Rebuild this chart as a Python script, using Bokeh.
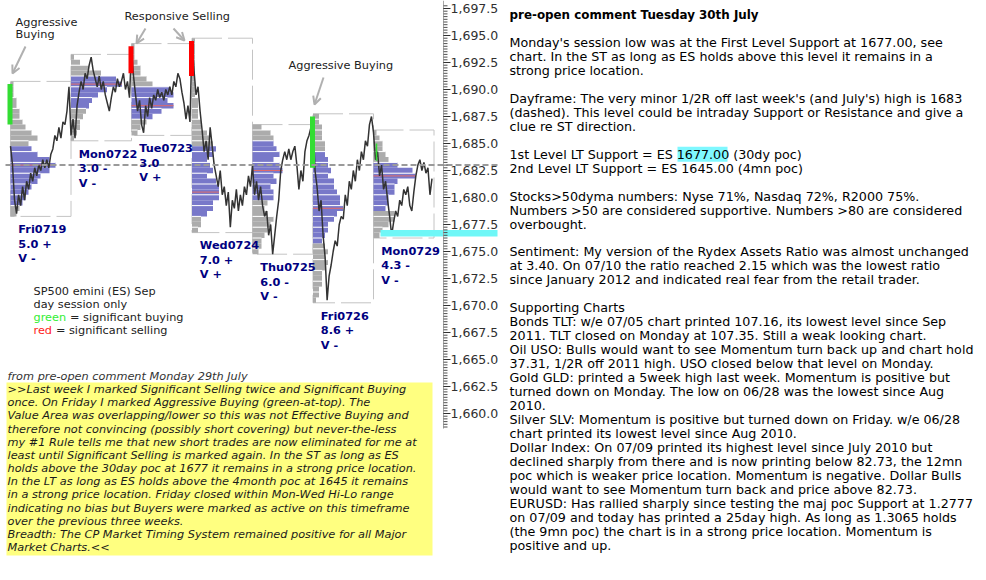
from bokeh.plotting import figure
from bokeh.models import Range1d, Arrow, OpenHead
from bokeh.core.properties import value
from bokeh.embed import file_html
from bokeh.resources import INLINE

# ---------------- data ----------------
day_names = ["Fri0719", "Mon0722", "Tue0723", "Wed0724", "Thu0725", "Fri0726", "Mon0729"]
day_scores = ["5.0 +", "3.0 -", "3.0", "7.0 +", "6.0 -", "8.6 +", "4.3 -"]
day_value = ["V -", "V -", "V +", "V +", "V -", "V -", "V -"]
day_high = [1690.5, 1693.0, 1694.0, 1694.5, 1686.5, 1687.5, 1686.0]
day_low = [1678.5, 1685.5, 1686.0, 1677.0, 1675.0, 1670.5, 1676.5]
va_high = [1684.5, 1691.0, 1690.0, 1684.5, 1685.0, 1684.0, 1683.0]
va_low = [1679.5, 1688.5, 1687.5, 1678.5, 1680.0, 1676.0, 1679.0]
poc = [1683.0, 1690.5, 1688.5, 1680.5, 1682.5, 1679.0, 1682.0]

# TPO counts per half-point row, from the day high downwards
tpo_fri0719 = [1, 1, 1, 2, 2, 3, 3, 4, 5, 7, 9, 6, 7, 9, 13, 15, 13, 10, 9, 7, 6, 5, 4, 3, 2]
tpo_mon0722 = [1, 3, 6, 10, 15, 17, 12, 9, 7, 6, 5, 4, 3, 3, 2, 1]
tpo_tue0723 = [1, 1, 1, 2, 3, 3, 5, 7, 13, 14, 12, 14, 10, 7, 5, 3, 2]
tpo_wed0724 = [1, 1, 1, 1, 1, 1, 1, 1, 1, 1, 1, 2, 2, 2, 2, 3, 3, 5, 6, 7, 8, 7, 5, 6, 7, 5, 8, 9, 9, 9, 7, 7, 5, 3, 3, 2]
tpo_thu0725 = [3, 6, 7, 7, 8, 9, 7, 9, 10, 7, 8, 6, 7, 7, 5, 4, 5, 7, 6, 5, 4, 3, 3, 2]
tpo_fri0726 = [2, 2, 3, 3, 3, 4, 4, 4, 5, 5, 6, 5, 7, 7, 8, 9, 9, 10, 8, 7, 5, 5, 4, 3, 4, 5, 4, 5, 4, 3, 3, 3, 2, 2, 1]
tpo_mon0729 = [1, 2, 3, 3, 4, 5, 8, 13, 14, 8, 7, 7, 5, 5, 4, 7, 7, 5, 3, 2]

# intraday price path (equal time steps within each day session)
px_fri0719 = [1684.75, 1683.0, 1679.75, 1678.5, 1680.25, 1679.25, 1681.0, 1679.75, 1681.5, 1680.75,
              1682.25, 1681.5, 1682.75, 1682.0, 1683.0, 1682.5, 1683.5, 1682.75, 1683.5, 1682.75,
              1684.0, 1684.5, 1685.75, 1685.25, 1686.5, 1685.5, 1687.0, 1686.75, 1688.0, 1690.25]
px_mon0722 = [1685.75, 1687.25, 1685.5, 1688.5, 1689.75, 1690.75, 1690.0, 1691.5, 1691.0, 1692.25,
              1693.0, 1691.75, 1691.0, 1690.25, 1691.25, 1690.0, 1690.75, 1689.5, 1688.75, 1688.0,
              1689.25, 1690.25, 1689.75, 1691.0, 1690.25, 1690.75, 1691.5, 1690.0, 1690.75, 1689.25]
px_tue0723 = [1693.75, 1691.25, 1689.5, 1688.0, 1689.0, 1686.75, 1686.0, 1688.5, 1687.5, 1689.25,
              1688.25, 1689.5, 1689.0, 1690.0, 1689.25, 1689.75, 1689.0, 1690.0, 1689.5, 1690.25,
              1689.5, 1690.75, 1690.25, 1691.5, 1691.0, 1689.75, 1688.75, 1687.25, 1688.5, 1687.0]
px_wed0724 = [1694.5, 1691.75, 1689.5, 1690.25, 1688.0, 1686.25, 1684.25, 1685.25, 1683.5, 1686.5,
              1684.75, 1683.0, 1682.0, 1681.0, 1682.5, 1680.25, 1681.0, 1679.25, 1680.5, 1677.25,
              1679.75, 1679.0, 1680.75, 1678.75, 1680.25, 1679.25, 1681.0, 1680.25, 1682.0, 1681.0]
px_thu0725 = [1683.0, 1680.25, 1681.5, 1679.75, 1681.0, 1679.25, 1678.25, 1678.75, 1676.5, 1677.5,
              1674.75, 1676.5, 1678.25, 1679.75, 1682.5, 1683.5, 1684.25, 1683.5, 1684.5, 1683.5,
              1684.25, 1684.75, 1683.0, 1680.75, 1682.5, 1681.5, 1684.25, 1685.25, 1685.75, 1686.5]
px_fri0726 = [1687.25, 1682.5, 1681.0, 1678.75, 1679.75, 1676.5, 1674.5, 1670.5, 1672.75, 1673.75,
              1675.0, 1676.0, 1675.5, 1677.5, 1678.25, 1678.0, 1680.25, 1679.25, 1681.5, 1680.75,
              1682.5, 1681.5, 1683.5, 1682.5, 1684.25, 1683.5, 1685.25, 1684.75, 1686.75, 1687.5]
px_mon0729 = [1686.0, 1683.5, 1684.25, 1682.0, 1683.0, 1680.75, 1681.5, 1679.75, 1678.25, 1676.5,
              1677.75, 1678.75, 1678.25, 1679.75, 1679.25, 1680.75, 1680.25, 1681.0, 1679.25, 1678.75,
              1680.5, 1682.0, 1683.0, 1683.5, 1682.5, 1683.25, 1682.25, 1682.75, 1680.25, 1681.75]

# significant activity markers
sig_day = [0, 2, 3, 5]
sig_top = [1690.5, 1694.0, 1694.5, 1687.5]
sig_bottom = [1686.75, 1691.5, 1691.25, 1682.75]
sig_color = ["#33dd33", "#ff0000", "#ff0000", "#33dd33"]

half_r_level = 1683.0
support_level = 1677.0

tick_values = [1660.0 + 2.5 * i for i in range(16)]
tick_labels = ["{:,.1f}".format(v) for v in tick_values]

right_text = [
    "pre-open comment Tuesday 30th July",
    "",
    "Monday's session low was at the First Level Support at 1677.00, see",
    "chart.  In the ST as long as ES holds above this level it remains in a",
    "strong price location.",
    "",
    "Dayframe: The very minor 1/2R off last week's (and July's) high is 1683",
    "(dashed).  This level could be intraday Support or Resistance and give a",
    "clue re ST direction.",
    "",
    "1st Level LT Support = ES 1677.00 (30dy poc)",
    "2nd Level LT Support = ES 1645.00 (4mn poc)",
    "",
    "Stocks>50dyma numbers: Nyse 71%, Nasdaq 72%, R2000 75%.",
    "Numbers >50 are considered supportive.   Numbers >80 are considered",
    "overbought.",
    "",
    "Sentiment: My version of the Rydex Assets Ratio was almost unchanged",
    "at 3.40.  On 07/10 the ratio reached 2.15 which was the lowest ratio",
    "since January 2012 and indicated real fear from the retail trader.",
    "",
    "Supporting Charts",
    "Bonds TLT: w/e 07/05 chart printed 107.16, its lowest level since Sep",
    "2011. TLT closed on Monday at 107.35. Still a weak looking chart.",
    "Oil USO: Bulls would want to see Momentum turn back up and chart hold",
    "37.31, 1/2R off 2011 high.  USO closed below that level on Monday.",
    "Gold  GLD:  printed a 5week high last week.  Momentum is positive but",
    "turned down on Monday. The low on 06/28 was the lowest since Aug",
    "2010.",
    "Silver SLV: Momentum is positive but turned down on Friday.  w/e 06/28",
    "chart printed its lowest level since Aug 2010.",
    "Dollar Index:  On 07/09 printed its highest level since July 2010 but",
    "declined sharply from there and is now printing below 82.73, the 12mn",
    "poc which is weaker price location.  Momentum is negative.  Dollar Bulls",
    "would want to see Momentum turn back and price above 82.73.",
    "EURUSD: Has rallied sharply since testing the maj poc Support at 1.2777",
    "on 07/09 and today has printed a 25day high.  As long as 1.3065 holds",
    "(the 9mn poc) the chart is in a strong price location.  Momentum is",
    "positive and up.",
]

box_heading = "from pre-open comment Monday 29th July"
box_text = [
    ">>Last week I marked Significant Selling twice and Significant Buying",
    "once.  On Friday I marked Aggressive Buying (green-at-top).  The",
    "Value Area was overlapping/lower so this was not Effective Buying and",
    "therefore not convincing (possibly short covering) but never-the-less",
    "my #1 Rule tells me that new short trades are now eliminated for me at",
    "least until Significant Selling is marked again.  In the ST as long as ES",
    "holds above the 30day poc at 1677 it remains in a strong price location.",
    "In the LT as long as ES holds above the 4month poc at 1645 it remains",
    "in a strong price location.  Friday closed within Mon-Wed Hi-Lo range",
    "indicating no bias but Buyers were marked as active on this timeframe",
    "over the previous three weeks.",
    "Breadth: The CP Market Timing System remained positive for all Major",
    "Market Charts.<<",
]

legend_lines = ["SP500 emini (ES) Sep", "day session only"]

# ---------------- layout constants ----------------
W, H = 978, 572
DAY_PX = 60.5
DAY0_PX = 10.0
PX_PER_PT = 10.8
TOP_PRICE, TOP_PX = 1697.5, 8.0
TPO_W = 3.0 / DAY_PX
FONT = value("DejaVu Sans")


def px_to_day(px):
    return (px - DAY0_PX) / DAY_PX


def py_to_price(py):
    return TOP_PRICE - (py - TOP_PX) / PX_PER_PT


p = figure(width=W, height=H, x_range=Range1d(0, W), y_range=Range1d(H, 0),
           output_backend="svg", toolbar_location=None, min_border=0,
           x_axis_location=None, y_axis_location=None)
p.extra_x_ranges = {"day": Range1d(px_to_day(0), px_to_day(W))}
p.extra_y_ranges = {"price": Range1d(py_to_price(H), py_to_price(0))}
p.grid.visible = False
p.outline_line_color = None
p.background_fill_color = "white"
p.border_fill_color = "white"

DR = dict(x_range_name="day", y_range_name="price")

# day range boxes
days = list(range(len(day_names)))
p.quad(left=days, right=[d + 1 for d in days],
       top=[h + 0.25 for h in day_high], bottom=[l - 0.25 for l in day_low],
       fill_color=None, line_color="#c4c4c4", line_width=1, line_dash="30 6", **DR)

# market profiles
profiles = [tpo_fri0719, tpo_mon0722, tpo_tue0723, tpo_wed0724, tpo_thu0725, tpo_fri0726, tpo_mon0729]
ql, qr, qt, qb, qc = [], [], [], [], []
wx0, wx1, wy = [], [], []
for d, tpo in enumerate(profiles):
    for k, n in enumerate(tpo):
        price = day_high[d] - 0.5 * k
        ql.append(d)
        qr.append(d + n * TPO_W)
        qt.append(price + 0.25)
        qb.append(price - 0.25)
        qc.append("#7878c9" if va_low[d] <= price <= va_high[d] else "#acacac")
        if abs(price - round(price)) < 1e-9 and n > 1:
            wx0.append(d)
            wx1.append(d + n * TPO_W)
            wy.append(price + 0.25)
p.quad(left=ql, right=qr, top=qt, bottom=qb, fill_color=qc, line_color=None, **DR)
p.segment(x0=wx0, x1=wx1, y0=wy, y1=wy, line_color="white", line_width=1, **DR)

# point of control
poc_w = []
for d, tpo in enumerate(profiles):
    k = int(round((day_high[d] - poc[d]) / 0.5))
    poc_w.append(d + tpo[k] * TPO_W)
p.segment(x0=days, x1=poc_w, y0=poc, y1=poc, line_color="#e06a6a", line_width=1, **DR)

# price path
series = [px_fri0719, px_mon0722, px_tue0723, px_wed0724, px_thu0725, px_fri0726, px_mon0729]
lx, ly = [], []
for d, s in enumerate(series):
    n = len(s)
    for k, v in enumerate(s):
        lx.append(d + k / n)
        ly.append(v)
p.line(lx, ly, line_color="#333333", line_width=1.5, **DR)

# significant activity markers
p.quad(left=[d - 3 / DAY_PX for d in sig_day], right=[d + 2 / DAY_PX for d in sig_day],
       top=sig_top, bottom=sig_bottom, fill_color=sig_color, line_color=None, **DR)
p.segment(x0=[6 + 3 / DAY_PX], x1=[6 + 3 / DAY_PX], y0=[1685.0], y1=[1683.4],
          line_color="#33dd33", line_width=1.5, **DR)

# levels
AXIS_X = 443
p.segment(x0=[5], x1=[AXIS_X + 54], y0=[half_r_level], y1=[half_r_level],
          line_color="#9a9a9a", line_width=2, line_dash="6 3", y_range_name="price")
p.quad(left=[380], right=[AXIS_X + 54], top=[support_level], bottom=[support_level - 0.6],
       fill_color="#6ff7f7", line_color=None, y_range_name="price")

# price axis
p.segment(x0=[AXIS_X], x1=[AXIS_X], y0=[1658.6], y1=[py_to_price(0)],
          line_color="#a8a8a8", line_width=1, y_range_name="price")
minor = [1658.75 + 0.25 * i for i in range(157)]
p.segment(x0=[AXIS_X] * len(minor), x1=[AXIS_X + 4] * len(minor), y0=minor, y1=minor,
          line_color="#505050", line_width=1, y_range_name="price")
p.segment(x0=[AXIS_X] * len(tick_values), x1=[AXIS_X + 7] * len(tick_values),
          y0=tick_values, y1=tick_values, line_color="#303030", line_width=1, y_range_name="price")
p.text(x=[AXIS_X + 7] * len(tick_values), y=tick_values, text=tick_labels,
       text_font=FONT, text_font_size="12.5px", text_color="#303030",
       text_baseline="middle", text_align="left", y_range_name="price")

# day labels
lab_x = [d + 0.13 for d in days]
for texts, off in ((day_names, 16), (day_scores, 30.5), (day_value, 45)):
    p.text(x=lab_x, y=day_low, text=texts, y_offset=off, text_font=FONT,
           text_font_size="11.3px", text_font_style="bold", text_color="#000080",
           text_baseline="middle", text_align="left", **DR)

# annotations
ann_font = dict(text_font=FONT, text_font_size="11.3px", text_color="#222222",
                text_baseline="middle", text_align="left")
p.text(x=[15, 15, 124, 288], y=[22, 34, 16, 65],
       text=["Aggressive", "Buying", "Responsive Selling", "Aggressive Buying"], **ann_font)
for xs, ys, xe, ye in ((25, 46, 12, 73), (145, 28, 136, 43), (173, 28, 184, 40), (323, 77, 314, 104)):
    p.add_layout(Arrow(end=OpenHead(size=8, line_color="#b0b0b0", line_width=2),
                       x_start=xs, y_start=ys, x_end=xe, y_end=ye,
                       line_color="#b0b0b0", line_width=2))

# legend text
p.text(x=[33, 33], y=[291, 304], text=legend_lines, **ann_font)
p.text(x=[33], y=[317], text=["green"], **{**ann_font, "text_color": "#33ee33"})
p.text(x=[33 + 36.5], y=[317], text=["= significant buying"], **ann_font)
p.text(x=[33], y=[330], text=["red"], **{**ann_font, "text_color": "#ff1a1a"})
p.text(x=[33 + 22.4], y=[330], text=["= significant selling"], **ann_font)

# yellow comment box
p.quad(left=[6], right=[432], top=[382], bottom=[555], fill_color="#ffff80", line_color=None)
p.text(x=[7], y=[376], text=[box_heading], text_font=FONT, text_font_size="11.3px",
       text_font_style="italic", text_color="#333333", text_baseline="middle")
p.text(x=[7] * len(box_text), y=[389 + 13.17 * i for i in range(len(box_text))], text=box_text,
       text_font=FONT, text_font_size="11.3px", text_font_style="italic",
       text_color="#1a1a1a", text_baseline="middle")

# right-hand commentary
RX = 509
line_y = [14 + 13.97 * i for i in range(len(right_text))]
p.quad(left=[677], right=[727], top=[line_y[10] - 7.5], bottom=[line_y[10] + 7.5],
       fill_color="#7ff8ff", line_color=None)
p.text(x=[RX], y=[line_y[0]], text=[right_text[0]], text_font=FONT, text_font_size="11.9px",
       text_font_style="bold", text_color="#000000", text_baseline="middle")
body_idx = [i for i in range(1, len(right_text)) if right_text[i]]
p.text(x=[RX] * len(body_idx), y=[line_y[i] for i in body_idx], text=[right_text[i] for i in body_idx],
       text_font=FONT, text_font_size="12.7px", text_color="#000000", text_baseline="middle")

open("out.html", "w").write(file_html(p, INLINE))
